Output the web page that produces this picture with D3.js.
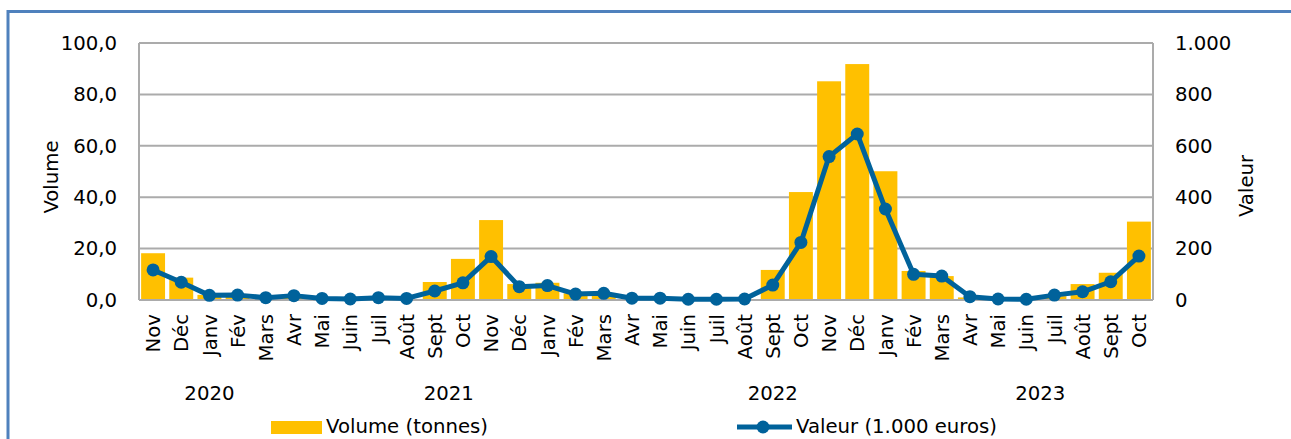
<!DOCTYPE html>
<html>
<head>
<meta charset="utf-8">
<script src="https://cdn.jsdelivr.net/npm/d3@7"></script>
<style>
  html, body { margin: 0; padding: 0; background: #fff; }
  svg { display: block; }
  text { font-family: "DejaVu Sans", sans-serif; fill: #000; }
</style>
</head>
<body>
<svg id="chart" width="1291" height="439"></svg>
<script>
// ---- data ----
const months = ["Nov","Déc","Janv","Fév","Mars","Avr","Mai","Juin","Juil","Août","Sept","Oct",
                "Nov","Déc","Janv","Fév","Mars","Avr","Mai","Juin","Juil","Août","Sept","Oct",
                "Nov","Déc","Janv","Fév","Mars","Avr","Mai","Juin","Juil","Août","Sept","Oct"];
const volume = [18.2, 8.7, 2.0, 1.5, 0.6, 1.0, 0.3, 0.3, 0.4, 0.3, 7.0, 16.0,
                31.1, 6.2, 6.7, 2.6, 2.0, 0.3, 0.3, 0.2, 0.2, 0.3, 11.7, 42.0,
                85.1, 91.8, 50.1, 11.3, 9.3, 1.0, 0.2, 0.2, 1.5, 6.2, 10.6, 30.5];
const valeur = [117, 69, 18, 19, 9, 17, 6, 4, 9, 6, 35, 67,
                169, 52, 56, 23, 26, 7, 7, 3, 3, 4, 58, 224,
                558, 646, 354, 100, 93, 13, 4, 3, 19, 32, 71, 171];
const years = ["2020", "2021", "2022", "2023"];
const yearStart = [0, 5, 17, 28];
const yearEnd = [4, 16, 27, 35];
const leftTicks = [0, 20, 40, 60, 80, 100];
const rightTicks = [0, 200, 400, 600, 800, 1000];
const seriesNames = ["Volume (tonnes)", "Valeur (1.000 euros)"];

// ---- layout ----
const svg = d3.select("#chart");
const L = 139, R = 1153, T = 43, B = 300;
const FS = "19.7px";
const barColor = "#FFC000", lineColor = "#00629B", gridColor = "#ABABAB";
const idx = months.map((m, i) => i);

const x = d3.scaleBand().domain(idx).range([L, R]).paddingInner(0.15).paddingOuter(0.075);
const yL = d3.scaleLinear().domain([0, 100]).range([B, T]);
const yR = d3.scaleLinear().domain([0, 1000]).range([B, T]);
const cx = i => x(i) + x.bandwidth() / 2;

// outer frame
svg.append("path")
  .attr("d", `M8,${439 + 5} L8,11.5 L${1291 + 5},11.5`)
  .attr("fill", "none").attr("stroke", "#4F81BD").attr("stroke-width", 3);

// gridlines
svg.append("g").selectAll("line").data(leftTicks).join("line")
  .attr("x1", L).attr("x2", R)
  .attr("y1", d => yL(d)).attr("y2", d => yL(d))
  .attr("stroke", gridColor).attr("stroke-width", 2);

// bars
svg.append("g").selectAll("rect").data(volume).join("rect")
  .attr("x", (d, i) => x(i)).attr("width", x.bandwidth())
  .attr("y", d => yL(d)).attr("height", d => B - yL(d))
  .attr("fill", barColor);

// plot box sides
svg.append("line").attr("x1", L).attr("x2", L).attr("y1", T).attr("y2", B)
  .attr("stroke", gridColor).attr("stroke-width", 2);
svg.append("line").attr("x1", R).attr("x2", R).attr("y1", T).attr("y2", B)
  .attr("stroke", gridColor).attr("stroke-width", 2);
svg.append("line").attr("x1", L).attr("x2", R).attr("y1", B).attr("y2", B)
  .attr("stroke", gridColor).attr("stroke-width", 2);

// line + markers
const line = d3.line().x((d, i) => cx(i)).y(d => yR(d));
svg.append("path").datum(valeur).attr("d", line)
  .attr("fill", "none").attr("stroke", lineColor).attr("stroke-width", 5)
  .attr("stroke-linejoin", "round");
svg.append("g").selectAll("circle").data(valeur).join("circle")
  .attr("cx", (d, i) => cx(i)).attr("cy", d => yR(d)).attr("r", 6.5)
  .attr("fill", lineColor);

// axes (labels only)
const fmtL = d => d3.format(".1f")(d).replace(".", ",");
const fmtR = d => d3.format(",")(d).replace(",", ".");
const axL = svg.append("g").attr("transform", `translate(${L},0)`)
  .call(d3.axisLeft(yL).tickValues(leftTicks).tickFormat(fmtL).tickSize(0).tickPadding(22));
const axR = svg.append("g").attr("transform", `translate(${R},0)`)
  .call(d3.axisRight(yR).tickValues(rightTicks).tickFormat(fmtR).tickSize(0).tickPadding(22));
[axL, axR].forEach(a => {
  a.select(".domain").remove();
  a.selectAll("text").style("font-family", "DejaVu Sans").style("font-size", FS).attr("fill", "#000");
});

// month labels
svg.append("g").selectAll("text").data(months).join("text")
  .attr("transform", (d, i) => `translate(${cx(i)},${B + 14}) rotate(-90)`)
  .attr("dy", "0.36em").attr("text-anchor", "end")
  .style("font-size", FS).text(d => d);

// year labels
svg.append("g").selectAll("text").data(years).join("text")
  .attr("x", (d, i) => (cx(yearStart[i]) + cx(yearEnd[i])) / 2)
  .attr("y", 400).attr("text-anchor", "middle")
  .style("font-size", FS).text(d => d);

// axis titles
svg.append("text").attr("transform", `translate(58,177) rotate(-90)`)
  .attr("text-anchor", "middle").style("font-size", FS).text("Volume");
svg.append("text").attr("transform", `translate(1253,186) rotate(-90)`)
  .attr("text-anchor", "middle").style("font-size", FS).text("Valeur");

// legend
const lg = svg.append("g");
lg.append("rect").attr("x", 271).attr("y", 421).attr("width", 51).attr("height", 13).attr("fill", barColor);
lg.append("text").attr("x", 326).attr("y", 433).style("font-size", FS).text(seriesNames[0]);
lg.append("line").attr("x1", 737).attr("x2", 792).attr("y1", 427).attr("y2", 427)
  .attr("stroke", lineColor).attr("stroke-width", 5);
lg.append("circle").attr("cx", 763).attr("cy", 427).attr("r", 6.5).attr("fill", lineColor);
lg.append("text").attr("x", 796).attr("y", 433).style("font-size", FS).text(seriesNames[1]);
</script>
</body>
</html>
